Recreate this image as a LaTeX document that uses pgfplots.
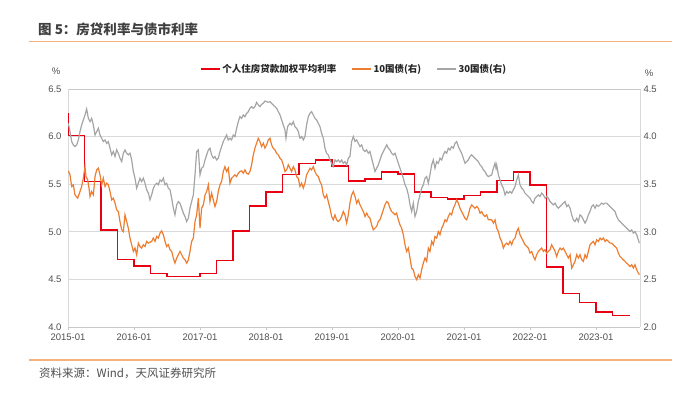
\documentclass[border=0pt]{standalone}
\usepackage{fontspec}
\setmainfont{Liberation Sans}
\newfontfamily\cjk{Noto Sans CJK SC}
\usepackage{pgfplots}
\pgfplotsset{compat=1.18}
\definecolor{cred}{RGB}{232,0,18}
\definecolor{corange}{RGB}{237,125,49}
\definecolor{cgray}{RGB}{165,165,165}
\definecolor{gridc}{RGB}{217,217,217}
\definecolor{axc}{RGB}{200,200,200}
\definecolor{txt}{RGB}{80,80,80}
\definecolor{ttl}{RGB}{64,64,64}
\definecolor{lineor}{RGB}{246,178,125}
\begin{document}
\begin{tikzpicture}[x=1bp,y=1bp]
\path[use as bounding box] (0,0) rectangle (700,395);
\node[anchor=west, text=ttl, font=\cjk\bfseries\fontsize{13.5bp}{15bp}\selectfont, inner sep=0] at (38,366) {图 5：房贷利率与债市利率};
\draw[lineor, line width=1.8bp] (29,353.5) -- (672,353.5);
\draw[lineor, line width=1.2bp] (29,35) -- (672,35);
\node[anchor=west, text=txt, font=\cjk\fontsize{11.5bp}{13bp}\selectfont, inner sep=0] at (39,22) {资料来源：Wind，天风证券研究所};
\node[text=txt, font=\fontsize{9.5bp}{11bp}\selectfont, inner sep=0] at (56,324) {\%};
\node[text=txt, font=\fontsize{9.5bp}{11bp}\selectfont, inner sep=0] at (649,322) {\%};

\begin{axis}[at={(68bp,68bp)}, anchor=south west, scale only axis,
  width=572bp, height=238bp,
  xmin=0, xmax=104, ymin=4, ymax=6.5,
  xtick={0,12,24,36,48,60,72,84,96},
  xticklabels={2015-01,2016-01,2017-01,2018-01,2019-01,2020-01,2021-01,2022-01,2023-01},
  ytick={4,4.5,5,5.5,6,6.5},
  ymajorgrids, grid style={gridc, line width=0.8bp},
  separate axis lines,
  x axis line style={axc, line width=0.8bp},
  y axis line style={gridc, line width=0.8bp},
  xtick pos=left, ytick pos=left,
  tick align=outside, major tick length=3bp,
  xtick style={axc, line width=0.8bp}, ytick style={draw=none},
  tick label style={font=\fontsize{9.5bp}{11bp}\selectfont, text=txt},
  /pgf/number format/assume math mode=true,
  yticklabel style={/pgf/number format/.cd, fixed, fixed zerofill, precision=1},
  legend columns=3,
  legend style={at={(0.5,1.084)}, anchor=center, draw=none, fill=none,
    font=\cjk\bfseries\fontsize{9.5bp}{11bp}\selectfont, text=black!85,
    /tikz/every even column/.append style={column sep=14bp},
    nodes={inner sep=1.5bp}},
  legend cell align=left,
  legend image code/.code={\draw[#1] (0bp,0bp) -- (19bp,0bp);},
]
\addplot[cred, line width=1.5bp, const plot, mark=none] coordinates {
(0,6.25)(0,6.01)(3,5.53)(6,5.02)(9,4.71)(12,4.64)(15,4.56)(18,4.53)(24,4.56)(27,4.70)(30,5.01)(33,5.27)(36,5.42)(39,5.60)(42,5.72)(45,5.755)(48,5.69)(51,5.535)(54,5.556)(57,5.626)(60,5.605)(63,5.416)(66,5.36)(69,5.343)(72,5.38)(75,5.42)(78,5.54)(81,5.63)(84,5.49)(87,4.63)(90,4.35)(93,4.26)(96,4.16)(99,4.12)(102.2,4.12)};
\addlegendentry{个人住房贷款加权平均利率}
\addlegendimage{corange, line width=1.3bp}
\addlegendentry{10国债(右)}
\addlegendimage{cgray, line width=1.3bp}
\addlegendentry{30国债(右)}
\end{axis}

\begin{axis}[at={(68bp,68bp)}, anchor=south west, scale only axis,
  width=572bp, height=238bp,
  xmin=0, xmax=104, ymin=2, ymax=4.5,
  axis x line=none, axis y line*=right,
  ytick={2,2.5,3,3.5,4,4.5},
  y axis line style={gridc, line width=0.8bp},
  ytick style={draw=none},
  tick label style={font=\fontsize{9.5bp}{11bp}\selectfont, text=txt},
  /pgf/number format/assume math mode=true,
  yticklabel style={/pgf/number format/.cd, fixed, fixed zerofill, precision=1},
]
\addplot[corange, line width=1.2bp, mark=none] coordinates {
(0.06,3.640)(0.36,3.598)(0.67,3.476)(0.97,3.493)(1.27,3.388)(1.76,3.353)(2.18,3.423)(2.48,3.476)(2.79,3.563)(3.09,3.685)(3.27,3.580)(3.58,3.545)(3.82,3.458)(4.0,3.371)(4.30,3.423)(4.61,3.388)(4.91,3.580)(5.21,3.650)(5.52,3.668)(5.82,3.598)(6.12,3.493)(6.42,3.563)(6.73,3.476)(7.03,3.510)(7.33,3.493)(7.64,3.423)(7.94,3.336)(8.24,3.353)(8.55,3.301)(8.85,3.231)(9.15,3.213)(9.45,3.108)(9.76,3.021)(10.06,3.003)(10.36,3.178)(10.67,3.108)(10.97,3.038)(11.27,2.934)(11.58,2.864)(11.88,2.794)(12.18,2.829)(12.48,2.759)(12.79,2.881)(13.09,2.846)(13.39,2.829)(13.70,2.864)(14.0,2.846)(14.30,2.899)(14.61,2.881)(15.21,2.899)(15.52,2.934)(15.82,2.899)(16.12,2.951)(16.42,2.934)(16.73,2.986)(17.03,3.010)(17.33,2.969)(17.64,2.899)(17.94,2.846)(18.24,2.864)(18.55,2.811)(18.85,2.794)(19.15,2.724)(19.45,2.671)(19.76,2.724)(20.06,2.759)(20.36,2.794)(20.67,2.759)(20.97,2.724)(21.27,2.706)(21.58,2.671)(21.88,2.706)(22.18,2.794)(22.48,2.899)(22.79,2.934)(23.09,3.108)(23.39,3.178)(23.70,3.353)(24.0,3.038)(24.30,3.248)(24.61,3.283)(24.91,3.388)(25.21,3.423)(25.52,3.493)
(25.81,3.318)(26.11,3.406)(26.42,3.336)(26.72,3.266)(27.02,3.318)(27.32,3.423)(27.63,3.493)(27.93,3.528)(28.23,3.633)(28.54,3.685)(28.84,3.633)(29.14,3.668)(29.45,3.510)(29.75,3.563)(30.05,3.580)(30.35,3.598)(30.66,3.580)(30.96,3.615)(31.26,3.633)(31.57,3.640)(31.87,3.615)(32.17,3.650)(32.48,3.615)(32.78,3.605)(33.08,3.633)(33.38,3.703)(33.69,3.808)(33.99,3.878)(34.29,3.930)(34.60,3.983)(34.90,3.948)(35.20,3.895)(35.51,3.930)(35.81,3.878)(36.11,3.913)(36.42,3.965)(36.72,3.983)(37.02,3.913)(37.32,3.878)(37.63,3.860)(37.93,3.825)(38.23,3.808)(38.54,3.773)(38.84,3.755)(39.14,3.703)(39.45,3.633)(39.75,3.650)(40.05,3.703)(40.35,3.668)(40.66,3.633)(40.96,3.685)(41.26,3.650)(41.57,3.580)(41.87,3.563)(42.17,3.476)(42.48,3.510)(42.78,3.458)(43.08,3.510)(43.38,3.598)(43.69,3.633)(43.99,3.668)(44.29,3.650)(44.60,3.685)(44.90,3.633)(45.20,3.598)(45.51,3.580)(45.81,3.528)(46.11,3.493)(46.42,3.388)(46.72,3.353)(47.02,3.388)(47.32,3.318)(47.63,3.248)(47.93,3.161)(48.23,3.126)(48.54,3.178)(48.84,3.126)(49.14,3.108)(49.45,3.126)(49.75,3.161)(50.05,3.213)(50.35,3.178)(50.66,3.091)(50.96,3.178)(51.26,3.301)
(51.57,3.388)(51.88,3.423)(52.18,3.371)(52.48,3.301)(52.78,3.336)(53.09,3.283)(53.39,3.248)(53.69,3.213)(54.0,3.161)(54.30,3.196)(54.60,3.161)(54.91,3.143)(55.21,3.073)(55.51,3.021)(55.81,3.038)(56.12,3.056)(56.42,3.108)(56.72,3.126)(57.03,3.178)(57.33,3.231)(57.63,3.283)(57.94,3.318)(58.24,3.301)(58.54,3.248)(58.84,3.213)(59.15,3.196)(59.45,3.178)(59.75,3.196)(60.06,3.126)(60.36,3.073)(60.66,3.038)(60.97,2.969)(61.27,2.864)(61.57,2.794)(61.88,2.829)(62.18,2.724)(62.48,2.619)(62.78,2.601)(63.09,2.531)(63.39,2.497)(63.69,2.549)(64.0,2.514)(64.30,2.601)(64.60,2.671)(64.91,2.724)(65.21,2.689)(65.51,2.829)(65.81,2.794)(66.12,2.899)(66.42,2.864)(66.72,2.951)(67.03,2.934)(67.33,3.003)(67.63,2.969)(67.94,3.038)(68.24,3.073)(68.54,3.126)(68.84,3.108)(69.15,3.161)(69.45,3.196)(69.75,3.178)(70.06,3.248)(70.36,3.283)(70.66,3.336)(70.97,3.301)(71.27,3.248)(71.57,3.213)(71.87,3.178)(72.18,3.143)(72.48,3.126)(72.78,3.178)(73.09,3.248)(73.39,3.283)(73.69,3.266)(74.0,3.248)(74.30,3.266)(74.60,3.248)(74.91,3.196)(75.21,3.213)(75.51,3.178)(75.81,3.161)(76.12,3.178)(76.42,3.126)
(77.03,3.126)(77.34,3.091)(77.64,3.126)(77.94,3.038)(78.25,3.003)(78.55,2.934)(78.85,2.899)(79.15,2.829)(79.46,2.864)(79.76,2.881)(80.06,2.864)(80.37,2.899)(80.67,2.864)(80.97,2.916)(81.28,2.934)(81.58,3.003)(81.88,3.038)(82.18,2.969)(82.49,2.934)(82.79,2.899)(83.09,2.864)(83.40,2.846)(83.70,2.829)(84.0,2.776)(84.31,2.794)(84.61,2.741)(84.91,2.706)(85.21,2.759)(85.52,2.794)(85.82,2.811)(86.12,2.829)(86.43,2.794)(86.73,2.811)(87.03,2.776)(87.34,2.794)(87.64,2.811)(87.94,2.864)(88.25,2.829)(88.55,2.794)(88.85,2.741)(89.15,2.794)(89.46,2.829)(89.76,2.811)(90.06,2.829)(90.37,2.794)(90.67,2.759)(90.97,2.724)(91.28,2.759)(91.58,2.619)(91.88,2.654)(92.18,2.689)(92.49,2.759)(92.79,2.724)(93.09,2.759)(93.40,2.706)(93.70,2.689)(94.0,2.759)(94.31,2.724)(94.61,2.794)(94.91,2.864)(95.21,2.881)(95.52,2.899)(95.82,2.864)(96.12,2.916)(96.43,2.899)(96.73,2.934)(97.03,2.916)(97.34,2.934)(97.64,2.899)(97.94,2.916)(98.25,2.899)(98.55,2.881)(98.85,2.881)(99.15,2.864)(99.46,2.846)(99.76,2.829)(100.06,2.776)(100.37,2.741)(100.67,2.724)(100.97,2.706)(101.28,2.689)(101.58,2.671)(101.88,2.654)(102.18,2.636)(102.49,2.654)(102.79,2.619)(103.09,2.654)(103.40,2.601)(103.70,2.566)(103.88,2.549)};
\addplot[cgray, line width=1.2bp, mark=none] coordinates {
(0.06,4.140)(0.36,4.052)(0.67,3.948)(0.97,3.913)(1.27,3.895)(1.58,3.913)(1.88,3.965)(2.18,4.052)(2.48,4.122)(2.79,4.175)(3.09,4.227)(3.39,4.290)(3.70,4.192)(4.0,4.157)(4.30,4.192)(4.61,4.122)(4.91,4.017)(5.21,4.052)(5.52,4.087)(5.82,4.017)(6.12,3.983)(6.42,3.948)(6.73,3.965)(7.03,3.930)(7.33,3.948)(7.64,3.878)(7.94,3.808)(8.24,3.843)(8.55,3.790)(8.85,3.860)(9.15,3.825)(9.45,3.773)(9.76,3.738)(10.06,3.825)(10.36,3.860)(10.67,3.825)(10.97,3.808)(11.27,3.825)(11.58,3.755)(11.88,3.633)(12.18,3.563)(12.48,3.458)(12.79,3.510)(13.09,3.563)(13.39,3.528)(13.70,3.563)(14.0,3.510)(14.30,3.441)(14.61,3.406)(14.91,3.336)(15.21,3.388)(15.52,3.458)(15.82,3.493)(16.12,3.510)(16.42,3.493)(16.73,3.545)(17.03,3.528)(17.33,3.563)(17.64,3.493)(17.94,3.510)(18.24,3.458)(18.55,3.441)(18.85,3.353)(19.15,3.248)(19.45,3.178)(19.76,3.283)(20.06,3.318)(20.36,3.301)(20.67,3.248)(20.97,3.196)(21.27,3.161)(21.58,3.108)(21.88,3.143)(22.18,3.248)(22.48,3.318)(22.79,3.388)(23.09,3.598)(23.39,3.843)(23.70,3.860)(24.0,3.598)(24.30,3.668)(24.61,3.685)(24.91,3.755)(25.21,3.808)(25.52,3.860)
(25.81,3.878)(26.11,3.808)(26.42,3.773)(26.72,3.790)(27.02,3.755)(27.32,3.773)(27.63,3.843)(27.93,3.895)(28.23,3.948)(28.54,3.983)(28.84,4.017)(29.14,3.965)(29.45,3.983)(29.75,3.965)(30.05,4.017)(30.35,4.0)(30.66,4.087)(30.96,4.157)(31.26,4.210)(31.57,4.192)(31.87,4.227)(32.17,4.210)(32.48,4.245)(32.78,4.262)(33.08,4.297)(33.38,4.315)(33.69,4.297)(33.99,4.315)(34.29,4.360)(34.60,4.332)(34.90,4.315)(35.20,4.339)(35.51,4.350)(35.81,4.374)(36.11,4.367)(36.42,4.360)(36.72,4.367)(37.02,4.350)(37.32,4.332)(37.63,4.315)(37.93,4.297)(38.23,4.262)(38.54,4.227)(38.84,4.175)(39.14,4.122)(39.45,4.070)(39.63,3.983)(39.93,4.105)(40.35,4.140)(40.66,4.122)(40.96,4.157)(41.26,4.105)(41.57,4.087)(41.87,4.052)(42.17,3.983)(42.48,4.0)(42.78,3.965)(43.08,4.0)(43.38,4.122)(43.69,4.210)(43.99,4.245)(44.29,4.262)(44.60,4.227)(44.90,4.192)(45.20,4.175)(45.51,4.140)(45.81,4.105)(46.11,4.035)(46.42,3.983)(46.72,3.878)(47.02,3.825)(47.32,3.808)(47.63,3.755)(47.93,3.720)(48.23,3.685)(48.54,3.755)(48.84,3.738)(49.14,3.755)(49.45,3.731)(49.75,3.755)(50.05,3.720)(50.35,3.738)(50.66,3.703)(50.96,3.773)(51.26,3.790)
(51.57,3.948)(51.88,4.0)(52.18,3.948)(52.48,3.965)(52.78,3.930)(53.09,3.895)(53.39,3.913)(53.69,3.860)(54.0,3.843)(54.30,3.860)(54.60,3.825)(54.91,3.843)(55.21,3.773)(55.51,3.703)(55.81,3.633)(56.12,3.668)(56.42,3.703)(56.72,3.755)(57.03,3.808)(57.33,3.843)(57.63,3.878)(57.94,3.913)(58.24,3.878)(58.54,3.860)(58.84,3.825)(59.15,3.808)(59.45,3.825)(59.75,3.773)(60.06,3.720)(60.36,3.668)(60.66,3.615)(60.97,3.563)(61.27,3.493)(61.57,3.458)(61.88,3.388)(62.18,3.283)(62.48,3.213)(62.78,3.301)(63.09,3.161)(63.39,3.213)(63.69,3.318)(64.0,3.388)(64.30,3.458)(64.60,3.493)(64.91,3.563)(65.21,3.580)(65.51,3.510)(65.81,3.598)(66.12,3.703)(66.42,3.755)(66.72,3.668)(67.03,3.738)(67.33,3.720)(67.63,3.773)(67.94,3.755)(68.24,3.808)(68.54,3.843)(68.84,3.825)(69.15,3.878)(69.45,3.860)(69.75,3.895)(70.06,3.878)(70.36,3.930)(70.66,3.948)(70.97,3.895)(71.27,3.860)(71.57,3.825)(71.87,3.773)(72.18,3.720)(72.48,3.738)(72.78,3.755)(73.09,3.790)(73.39,3.808)(73.69,3.790)(74.0,3.773)(74.30,3.755)(74.60,3.738)(74.91,3.703)(75.21,3.685)(75.51,3.650)(75.81,3.633)(76.12,3.598)(76.42,3.580)
(77.03,3.598)(77.34,3.668)(77.64,3.720)(77.82,3.668)(77.94,3.703)(78.25,3.598)(78.55,3.545)(78.85,3.493)(79.15,3.458)(79.46,3.388)(79.76,3.423)(80.06,3.406)(80.37,3.423)(80.67,3.406)(80.97,3.441)(81.28,3.476)(81.58,3.545)(81.88,3.598)(82.18,3.493)(82.49,3.458)(82.79,3.441)(83.09,3.406)(83.40,3.388)(83.70,3.371)(84.0,3.353)(84.31,3.318)(84.61,3.301)(84.91,3.353)(85.21,3.371)(85.52,3.388)(85.82,3.371)(86.12,3.406)(86.43,3.388)(86.73,3.353)(87.03,3.371)(87.34,3.353)(87.64,3.318)(87.94,3.301)(88.25,3.283)(88.55,3.301)(88.85,3.266)(89.15,3.248)(89.46,3.266)(89.76,3.283)(90.06,3.301)(90.37,3.318)(90.67,3.266)(90.97,3.283)(91.28,3.248)(91.58,3.178)(91.88,3.126)(92.18,3.108)(92.49,3.143)(92.79,3.108)(93.09,3.178)(93.40,3.161)(93.70,3.126)(94.0,3.091)(94.31,3.126)(94.61,3.178)(94.91,3.213)(95.21,3.266)(95.52,3.283)(95.82,3.248)(96.12,3.283)(96.43,3.266)(96.73,3.283)(97.03,3.301)(97.34,3.290)(97.64,3.301)(97.94,3.301)(98.25,3.283)(98.55,3.266)(98.85,3.248)(99.15,3.231)(99.46,3.213)(99.76,3.161)(100.06,3.126)(100.37,3.108)(100.67,3.091)(100.97,3.073)(101.28,3.056)(101.58,3.038)(101.88,3.021)(102.18,3.003)(102.49,3.021)(102.79,2.986)(103.09,3.003)(103.40,2.969)(103.70,2.916)(103.88,2.881)};
\end{axis}
\end{tikzpicture}
\end{document}
